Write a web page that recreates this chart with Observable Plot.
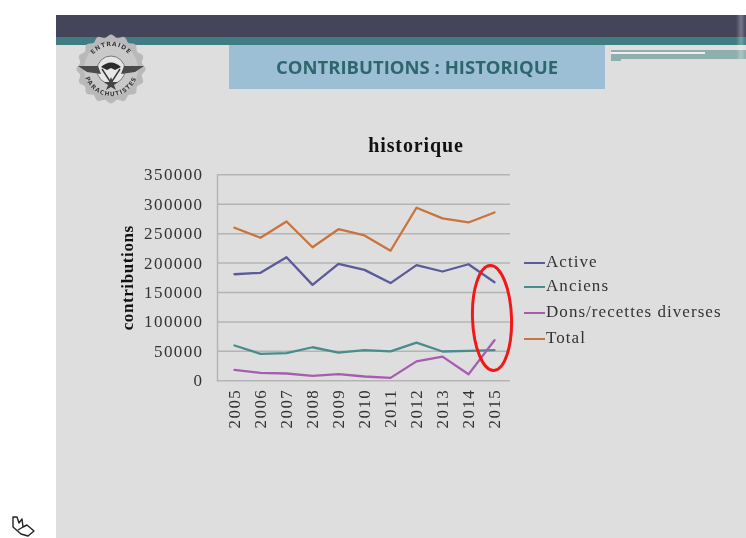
<!DOCTYPE html>
<html><head><meta charset="utf-8">
<script src="https://cdn.jsdelivr.net/npm/d3@7"></script>
<script src="https://cdn.jsdelivr.net/npm/@observablehq/plot@0.6"></script>
<style>
html,body{margin:0;padding:0;background:#fff;width:746px;height:538px;overflow:hidden}
#page{position:absolute;left:0;top:0;width:746px;height:538px;filter:blur(.45px)}
.abs{position:absolute}
#panel{left:56px;top:15px;width:690px;height:523px;background:#dedede}
#dark{left:56px;top:15px;width:690px;height:22px;background:#44445a}
#teal{left:56px;top:37px;width:690px;height:8px;background:#3f7d82}
#edge{left:736px;top:15px;width:10px;height:44px;background:linear-gradient(90deg,rgba(255,255,255,0),rgba(255,255,255,.28) 50%,rgba(255,255,255,0))}
#strip{left:611px;top:50px;width:135px;height:9px;background:#8faeae}
#strip2{left:611px;top:59px;width:10px;height:2px;background:#8faeae}
#strip3{left:611px;top:52px;width:94px;height:2px;background:#eef0f0}
#banner{left:229px;top:45px;width:376px;height:44px;background:#9dbfd6;color:#2f666c;font:bold 18.5px "Open Sans",sans-serif;line-height:44px;text-align:center}
#title{left:300px;width:232px;top:134px;text-align:center;font:bold 20px "Liberation Serif",serif;letter-spacing:.9px;color:#111}
#plot{left:0;top:0}
#plot svg{background:transparent;display:block}
#legend{left:524px;top:250px;font:17px "Liberation Serif",serif;letter-spacing:1.05px;color:#333}
.row{position:absolute;left:0;white-space:nowrap;height:24px;line-height:24px}
.row i{display:inline-block;width:21px;height:2.5px;vertical-align:middle;margin-right:1px}
#over{left:0;top:0}
</style></head><body>
<div id="page">
<div id="panel" class="abs"></div>
<div id="dark" class="abs"></div>
<div id="teal" class="abs"></div>
<div id="strip" class="abs"></div><div id="strip2" class="abs"></div><div id="strip3" class="abs"></div>
<div id="edge" class="abs"></div>
<div id="banner" class="abs">CONTRIBUTIONS : HISTORIQUE</div>
<div id="title" class="abs">historique</div>
<div id="plot" class="abs"></div>
<div id="legend" class="abs"></div>
<svg id="over" class="abs" width="746" height="538" xmlns="http://www.w3.org/2000/svg"></svg>
</div>
<script>
const years = ["2005","2006","2007","2008","2009","2010","2011","2012","2013","2014","2015"];
const active = [181000,183500,210000,163000,198700,188500,166000,196500,185700,198000,167500];
const anciens = [60000,45800,47000,57000,48000,52000,50000,65000,49800,51000,52000];
const dons = [18600,13500,12400,8500,11300,7300,5000,33000,41000,11000,69000];
const total = [260000,243000,270600,227000,257600,247000,221000,294000,276000,269000,286000];
const seriesNames = ["Active","Anciens","Dons/recettes diverses","Total"];
const seriesColors = ["#5b5a9a","#4a8c8e","#a85cb0","#c8743f"];
const yTicks = [0,50000,100000,150000,200000,250000,300000,350000];

const seriesValues = [active,anciens,dons,total];
const rows = seriesNames.flatMap((name,i)=>years.map((year,j)=>({year,name,value:seriesValues[i][j]})));
const serif = '"Liberation Serif",serif';

const chart = Plot.plot({
  width:746,height:538,
  marginLeft:217,marginRight:236,marginTop:174.3,marginBottom:157.7,
  style:{background:"transparent",fontFamily:serif},
  x:{type:"point",domain:years,padding:.5},
  y:{domain:[0,350000]},
  color:{domain:seriesNames,range:seriesColors},
  marks:[
    Plot.ruleY(yTicks,{stroke:"#b4b4b4",strokeWidth:1.5}),
    Plot.frame({anchor:"left",stroke:"#b4b4b4",strokeWidth:1.5}),
    Plot.axisY({ticks:yTicks,tickFormat:d=>String(d),tickSize:0,tickPadding:14,fontSize:17,fill:"#333",
      label:"contributions",labelAnchor:"center",labelArrow:"none",labelOffset:97}),
    Plot.axisX({tickRotate:-90,tickSize:0,tickPadding:8,fontSize:17,fill:"#333",label:null}),
    Plot.line(rows,{x:"year",y:"value",z:"name",stroke:"name",strokeWidth:2.3,curve:"linear"})
  ]
});
chart.querySelectorAll('[aria-label="y-axis tick label"] text, [aria-label="x-axis tick label"] text').forEach(t=>t.style.letterSpacing="1.4px");
const lab = chart.querySelector('[aria-label="y-axis label"]');
if(lab){lab.style.fontSize="17px";lab.style.fontWeight="bold";lab.style.fill="#111";lab.style.letterSpacing=".6px";}
document.getElementById("plot").appendChild(chart);

const legend = document.getElementById("legend");
const legendTops = [0,24,50,76];
seriesNames.forEach((n,i)=>{
  const r=document.createElement("div");r.className="row";r.style.top=legendTops[i]+"px";
  const k=document.createElement("i");k.style.background=seriesColors[i];
  r.appendChild(k);r.appendChild(document.createTextNode(n));legend.appendChild(r);
});

// Slide decoration: annotation ellipse, crest, and the corner cursor glyph
const over = d3.select("#over");
over.append("ellipse").attr("cx",492).attr("cy",318).attr("rx",19.5).attr("ry",52.5)
  .attr("transform","rotate(-2 492 318)").attr("fill","none").attr("stroke","#f01818").attr("stroke-width",3);

const lg = over.append("g").attr("transform","translate(111 69)");
const scallop = d3.range(0,360,2).map(a=>{
  const r=a*Math.PI/180, R=33+1.6*Math.cos(r*16);
  return [R*Math.cos(r),R*Math.sin(r)];
});
lg.append("path").attr("d",d3.line()(scallop)+"Z").attr("fill","#b9b9b9");
lg.append("circle").attr("r",27).attr("fill","#c9c9c9");
const defs = lg.append("defs");
defs.append("path").attr("id","arcTop").attr("d","M-23,0A23,23 0 0 1 23,0");
defs.append("path").attr("id","arcBot").attr("d","M-27,0A27,27 0 0 0 27,0");
const tt=(id,s)=>lg.append("text").attr("font-family",'"DejaVu Sans",sans-serif').attr("font-size",6).attr("font-weight","bold").attr("letter-spacing",.9).attr("fill","#3c3c3c")
  .append("textPath").attr("href","#"+id).attr("startOffset","50%").attr("text-anchor","middle").text(s);
tt("arcTop","ENTRAIDE");tt("arcBot","PARACHUTISTES");
lg.append("circle").attr("r",14).attr("cy",1).attr("fill","#e6e6e6").attr("stroke","#777").attr("stroke-width",1);
lg.append("path").attr("d","M-10,-2Q0,-11 10,-2L4,1 0,-1 -4,1Z").attr("fill","#2c2c2c");
lg.append("path").attr("d","M-9,0L0,14L9,0").attr("fill","none").attr("stroke","#333").attr("stroke-width",1.4);
lg.append("path").attr("d","M-33,-3L-13,-3L-10,5L-24,3Z M33,-3L13,-3L10,5L24,3Z").attr("fill","#4a4a4a");
lg.append("path").attr("d","M0,8L2,13L7,13L3,16L5,21L0,18L-5,21L-3,16L-7,13L-2,13Z").attr("fill","#444");

over.append("path").attr("d","M13,517L13,527L21,534L28,536L34,531L27,525L23,527L22,519L19,523L17,517Z M18,530L23,527")
  .attr("fill","#fff").attr("stroke","#222").attr("stroke-width",1.4).attr("stroke-linejoin","round");
</script>
</body></html>
